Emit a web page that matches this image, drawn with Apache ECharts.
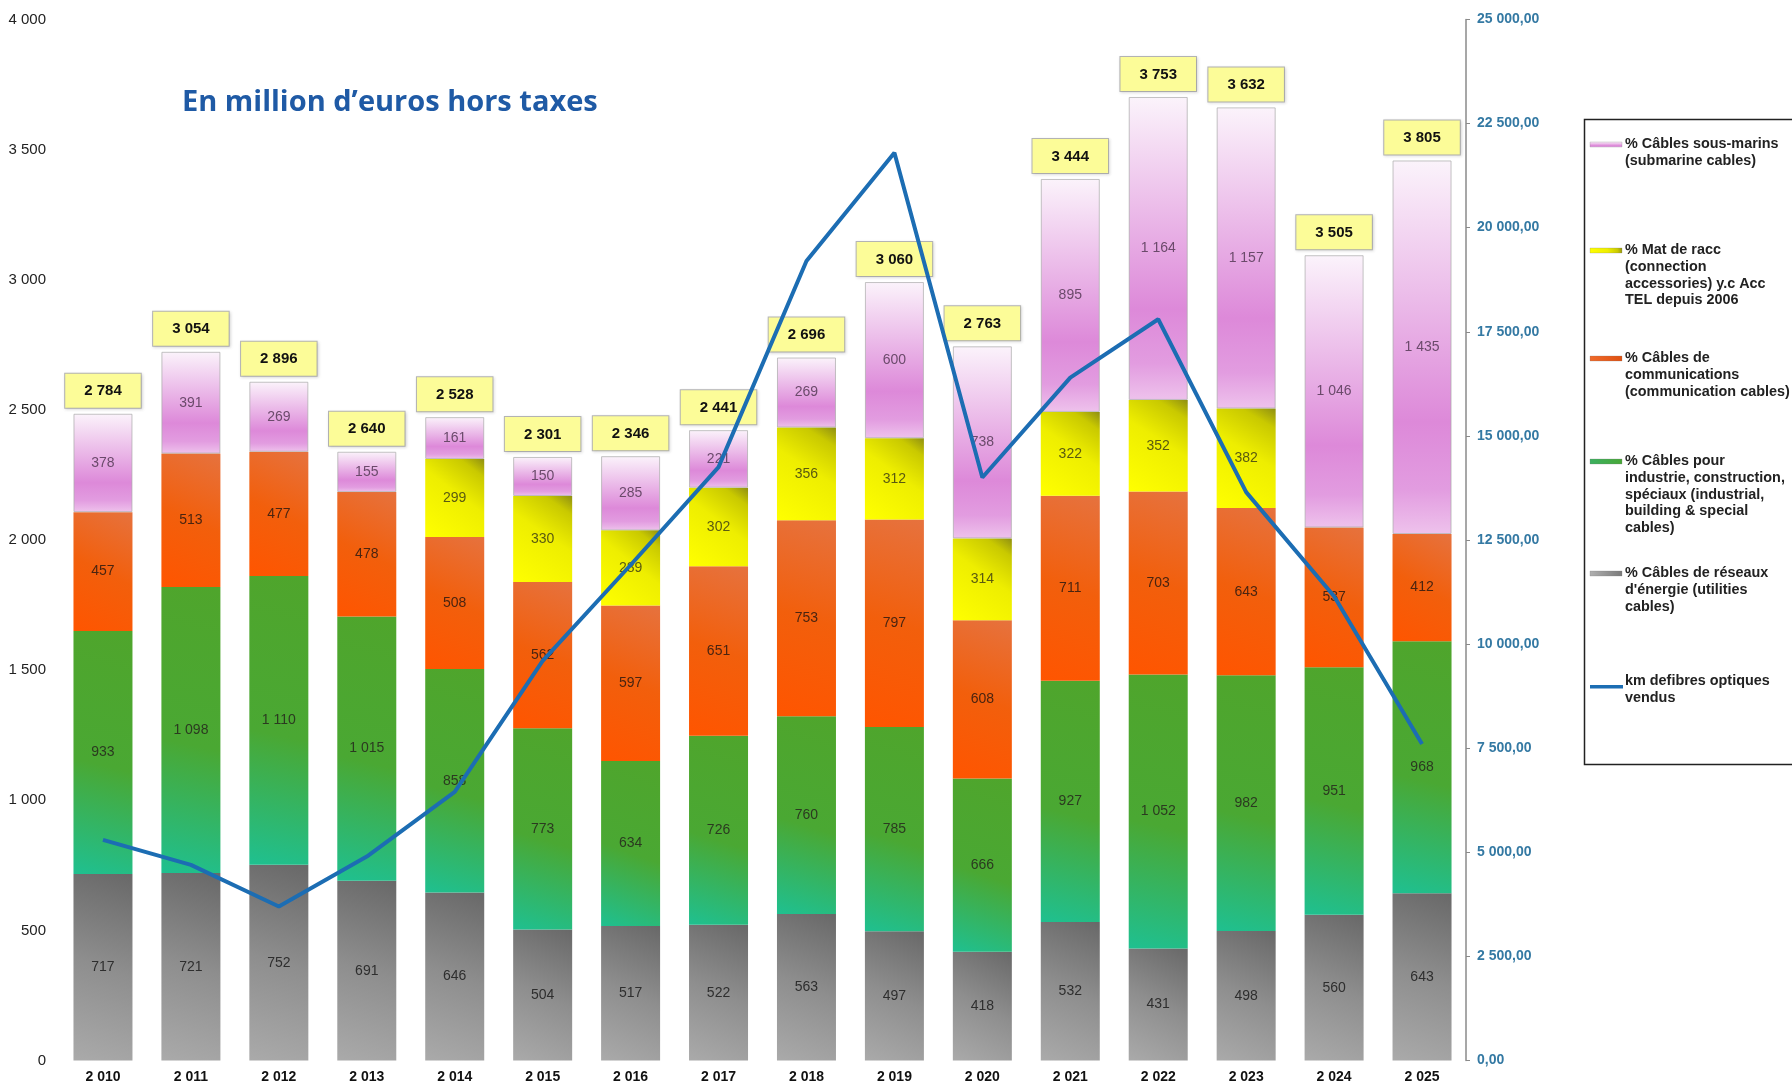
<!DOCTYPE html>
<html>
<head>
<meta charset="utf-8">
<script src="https://cdn.jsdelivr.net/npm/echarts@6/dist/echarts.min.js"></script>
<style>html,body{margin:0;padding:0;background:#fff}#c{width:1792px;height:1085px}</style>
</head>
<body>
<div id="c"></div>
<script>
const years = ['2 010','2 011','2 012','2 013','2 014','2 015','2 016','2 017','2 018','2 019','2 020','2 021','2 022','2 023','2 024','2 025'];
const utilities = [717,721,752,691,646,504,517,522,563,497,418,532,431,498,560,643];
const industrial = [933,1098,1110,1015,858,773,634,726,760,785,666,927,1052,982,951,968];
const communication = [457,513,477,478,508,562,597,651,753,797,608,711,703,643,537,412];
const accessories = [null,null,null,null,299,330,289,302,356,312,314,322,352,382,null,null];
const submarine = [378,391,269,155,161,150,285,221,269,600,738,895,1164,1157,1046,1435];
const totals = [2784,3054,2896,2640,2528,2301,2346,2441,2696,3060,2763,3444,3753,3632,3505,3805];
const fibreKm = [5300,4700,3700,4900,6450,9600,11900,14250,19200,21800,14000,16400,17800,13650,11150,7600];
const leftTicks = {min:0, max:4000, interval:500};
const rightTicks = {min:0, max:25000, interval:2500};

const fmt = n => String(n).replace(/\B(?=(\d{3})+(?!\d))/g, ' ');
const NARROW = "'Liberation Sans Narrow','Arial Narrow','Liberation Sans',Arial,sans-serif";
const SANS = "'Liberation Sans',Arial,sans-serif";

const grad = (x,y,x2,y2,stops) => ({type:'linear',x,y,x2,y2,colorStops:stops.map(s=>({offset:s[0],color:s[1]}))});
const cGray = grad(0,1,1,0,[[0,'#aaaaaa'],[0.5,'#8e8e8e'],[1,'#686868']]);
const cGreen = grad(0,1,1,0,[[0,'#1fc090'],[0.45,'#4aa833'],[1,'#4fa52c']]);
const cOrange = grad(0,1,1,0,[[0,'#ff5500'],[0.5,'#f25f0c'],[1,'#e6723e']]);
const cYellow = grad(0,1,1,0,[[0,'#ffff00'],[0.55,'#eeee00'],[0.85,'#c9c900'],[1,'#8f8f12']]);
const cPink = grad(0,0,0,1,[[0,'#fbf3fb'],[0.7,'#dd89d9'],[0.88,'#e29ce0'],[1,'#eec2ec']]);

const segLabel = (color) => ({show:true, position:'inside', fontFamily:NARROW, fontSize:14, color:color, formatter:p=>fmt(p.value)});
const BW = 59;
function barSeries(name, data, color, lblColor, extra) {
  return Object.assign({name, type:'bar', stack:'t', data, barWidth:BW, itemStyle:{color}, label:segLabel(lblColor), silent:true}, extra||{});
}

const series = [
  barSeries('utilities', utilities, cGray, '#2e2e2e'),
  barSeries('industrial', industrial, cGreen, '#2b3a20'),
  barSeries('communication', communication, cOrange, '#4a2410'),
  barSeries('accessories', accessories, cYellow, '#5a5a10'),
  barSeries('submarine', submarine, cPink, '#6b4a6b', {itemStyle:{color:cPink, borderColor:'rgba(170,170,170,0.7)', borderWidth:1}}),
  {name:'totals', type:'bar', stack:'t', barWidth:BW, data:totals.map(()=>0), silent:true,
   itemStyle:{color:'transparent'},
   label:{show:true, position:'top', distance:6, formatter:p=>fmt(totals[p.dataIndex]),
     fontFamily:SANS, fontWeight:'bold', fontSize:15, color:'#111',
     backgroundColor:'#fcfc98', borderColor:'#b5b5b5', borderWidth:1, padding:[10,19,9,19],
     shadowColor:'rgba(0,0,0,0.12)', shadowBlur:3, shadowOffsetX:1, shadowOffsetY:1}},
  {name:'km', type:'line', yAxisIndex:1, data:fibreKm, symbol:'none', silent:true, z:10,
   lineStyle:{color:'#1c6db3', width:4}}
];

const legendItems = [
  {y:144, color:cPink, text:'% Câbles sous-marins\n(submarine cables)'},
  {y:250, color:cYellow, text:'% Mat de racc\n(connection\naccessories) y.c Acc\nTEL depuis 2006'},
  {y:358, color:grad(0,0,1,0,[[0,'#f06a2a'],[1,'#e05010']]), text:'% Câbles de\ncommunications\n(communication cables)'},
  {y:461, color:grad(0,0,1,0,[[0,'#3cb060'],[1,'#48a838']]), text:'% Câbles pour\nindustrie, construction,\nspéciaux (industrial,\nbuilding & special\ncables)'},
  {y:573, color:grad(0,0,1,0,[[0,'#b0b0b0'],[1,'#7a7a7a']]), text:'% Câbles de réseaux\nd\'énergie (utilities\ncables)'},
  {y:681, line:true, text:'km defibres optiques\nvendus'}
];
const LH = 16.8;
const graphic = [{type:'rect', shape:{x:1584.5, y:119.5, width:230, height:645}, style:{fill:'#fff', stroke:'#222', lineWidth:1.5}, z:1}];
legendItems.forEach(it => {
  if (it.line) {
    graphic.push({type:'rect', shape:{x:1590, y:it.y+4, width:33, height:3.5}, style:{fill:'#1c6db3'}, z:2});
  } else {
    graphic.push({type:'rect', shape:{x:1590, y:it.y-2, width:32, height:5}, style:{fill:it.color, stroke:'rgba(120,120,120,0.5)', lineWidth:0.5}, z:2});
  }
  graphic.push({type:'text', x:1625, y:it.y - LH/2, z:2, style:{text:it.text, font:"bold 14.4px "+SANS, fill:'#222', lineHeight:LH, verticalAlign:'top', textVerticalAlign:'top'}});
});

const chart = echarts.init(document.getElementById('c'), null, {renderer:'canvas'});
chart.setOption({
  animation:false,
  backgroundColor:'#ffffff',
  title:{text:'En million d’euros hors taxes', left:177, top:83, textStyle:{fontFamily:"'Open Sans',Roboto,sans-serif", fontWeight:'bold', fontSize:29, color:'#1f5aa5'}},
  grid:{left:59, right:326, top:19.4, bottom:24.4, containLabel:false},
  xAxis:{type:'category', data:years, axisLine:{show:false}, axisTick:{show:false},
    axisLabel:{fontFamily:SANS, fontWeight:'bold', fontSize:14, color:'#111', margin:10}},
  yAxis:[
    {type:'value', min:leftTicks.min, max:leftTicks.max, interval:leftTicks.interval, splitLine:{show:false}, axisLine:{show:false}, axisTick:{show:false},
     axisLabel:{fontFamily:NARROW, fontSize:15, color:'#222', margin:13, formatter:v=>fmt(v)}},
    {type:'value', position:'right', min:rightTicks.min, max:rightTicks.max, interval:rightTicks.interval, splitLine:{show:false},
     axisLine:{show:true, lineStyle:{color:'#8a8a8a', width:1.5}}, axisTick:{show:true, length:4, lineStyle:{color:'#8a8a8a'}},
     axisLabel:{fontFamily:SANS, fontWeight:'bold', fontSize:14, color:'#3479a3', margin:11, formatter:v=>fmt(v)+',00'}}
  ],
  series,
  graphic
});
</script>
</body>
</html>
